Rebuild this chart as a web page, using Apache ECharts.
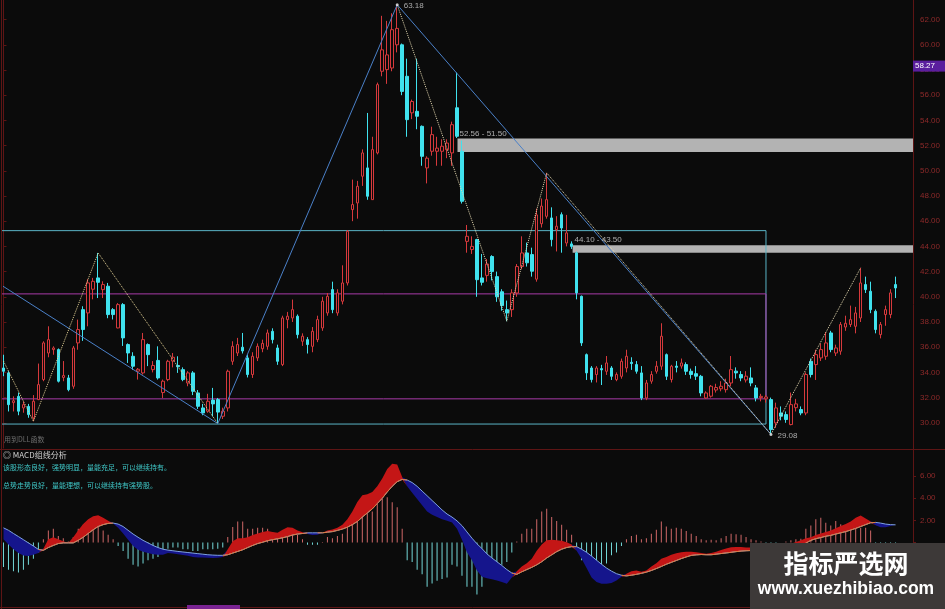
<!DOCTYPE html>
<html><head><meta charset="utf-8">
<script src="https://cdn.jsdelivr.net/npm/echarts@6.0.0/dist/echarts.min.js"></script>
<style>html,body{margin:0;padding:0;background:#0b0b0b;}#c{width:945px;height:609px;}</style>
</head><body><div id="c"></div>
<script>
// ---- candle data ----
const opens=[34.35,33.96,31.6,32.1,31.18,31.3,30.39,31.84,33.43,35.54,35.81,35.81,33.6,33.56,32.9,36.34,38.98,38.72,40.6,41.5,40.57,40.84,38.98,37.53,39.38,36.21,35.28,34.1,33.96,36.21,34.22,34.95,32.4,33.43,34.9,34.55,34.22,33.16,33.96,32.37,31.18,30.92,31.8,31.84,30.52,31.18,34.88,35.54,36.0,35.15,
33.83,35.15,35.88,36.07,37.26,35.94,34.62,38.19,38.32,38.46,36.47,36.6,36.07,36.6,37.53,38.72,40.57,38.72,39.65,41.1,46.92,47.45,49.57,50.23,47.71,51.42,57.9,58.03,58.16,60.0,60.0,57.5,54.6,54.72,53.53,50.23,51.55,51.55,51.55,51.68,51.42,55.0,51.55,44.4,43.75,44.54,41.5,41.7,43.2,41.6,
40.4,38.98,38.98,40.3,42.4,43.48,43.35,41.4,45.8,46.39,46.26,45.33,46.52,44.27,44.2,43.48,40.04,35.41,34.35,33.83,34.3,34.09,34.35,33.43,33.69,34.35,34.8,34.62,33.96,31.97,33.3,34.09,34.49,35.41,33.43,34.5,34.5,34.62,34.09,33.9,33.69,31.97,32.11,32.6,32.7,32.63,33.16,34.1,33.83,33.4,
33.56,32.77,32.0,31.9,31.84,29.99,30.78,30.65,29.86,31.2,31.05,30.78,34.88,34.62,35.15,35.28,37.13,35.54,35.68,37.6,37.8,37.66,38.32,40.97,40.44,38.85,37.0,38.59,38.59,40.97];
const closes=[34.09,31.44,31.75,30.92,31.44,30.65,31.71,33.03,36.34,36.6,35.94,33.3,33.75,32.63,35.94,37.4,37.4,41.1,41.23,41.15,40.97,38.59,38.59,39.38,36.74,35.54,34.49,34.25,36.6,35.41,34.55,33.56,33.3,34.88,35.2,34.45,33.43,33.96,32.5,31.31,30.78,31.71,31.5,30.85,30.92,34.09,36.07,36.21,35.7,33.83,
35.28,36.07,36.3,37.13,36.6,34.88,38.32,38.46,38.98,37.0,36.87,36.21,37.26,38.19,39.65,40.04,38.98,40.31,41.1,45.2,47.32,48.77,51.42,47.98,51.68,56.84,59.6,59.2,61.2,61.3,56.3,54.06,55.5,54.33,51.15,51.0,52.87,51.8,51.95,52.2,53.66,52.74,47.58,44.8,44.0,41.36,41.15,42.6,42.0,40.0,
39.3,38.72,40.31,42.4,43.48,42.7,42.03,46.5,47.2,47.71,44.54,45.6,45.46,45.07,44.0,40.31,36.34,33.96,33.43,34.35,34.2,34.75,33.69,33.83,34.88,35.28,34.7,34.09,31.97,33.16,33.83,34.49,36.87,33.69,34.49,34.4,34.75,34.09,33.83,33.7,32.37,32.37,32.9,32.8,32.9,33.16,34.22,33.96,33.56,33.7,
33.16,31.97,32.1,32.05,29.46,31.18,30.52,30.26,31.44,31.5,30.78,33.83,33.83,35.41,35.81,36.34,35.81,35.94,37.8,37.9,38.19,38.72,41.1,40.57,38.98,37.4,37.8,38.98,40.31,40.7];
const lows=[33.7,30.9,30.9,30.6,30.8,30.4,30.12,31.8,33.3,35.2,35.4,33.2,33.3,32.5,32.7,35.8,36.5,37.66,39.8,39.9,39.9,38.3,38.2,37.5,36.1,34.75,34.2,33.43,33.83,34.5,34.0,33.43,31.97,33.3,34.4,33.96,33.3,32.9,32.2,31.1,30.6,30.8,30.5,29.94,30.3,30.9,34.6,35.3,35.5,33.6,
33.56,34.9,35.6,35.8,36.3,34.6,34.5,37.5,38.0,36.7,36.1,35.5,35.6,36.4,37.3,38.5,38.7,38.5,39.4,40.9,46.0,46.2,48.8,47.7,47.7,51.3,57.5,56.9,57.9,59.4,56.0,52.7,54.1,53.3,50.4,49.0,51.2,50.4,50.4,51.0,50.4,52.6,47.4,43.5,43.4,40.0,40.9,41.2,41.3,39.6,
38.9,38.06,38.4,40.0,42.2,42.4,41.6,41.2,45.5,46.2,44.0,43.6,43.5,44.0,43.8,39.8,36.1,33.4,33.2,33.2,33.0,33.8,33.4,33.3,33.5,34.0,34.2,33.9,31.8,31.8,33.1,33.9,34.2,33.4,33.2,34.0,34.3,33.8,33.5,33.4,32.1,31.9,32.0,32.4,32.5,32.4,32.9,33.5,33.3,33.2,
32.9,31.7,31.7,31.6,29.08,29.6,30.2,30.0,29.8,30.9,30.6,30.6,33.6,33.4,34.9,35.0,35.6,35.3,35.4,37.3,37.6,37.1,38.0,40.3,38.7,37.1,36.7,37.7,38.3,39.9];
const highs=[35.4,34.1,32.1,32.4,31.7,31.5,32.2,34.7,36.47,37.66,36.07,35.9,34.9,33.8,36.1,38.19,39.25,41.4,41.5,43.48,41.23,41.1,39.1,39.5,39.5,36.3,35.6,34.35,37.13,36.3,34.9,36.07,33.43,35.0,35.54,35.28,34.4,34.1,34.1,32.6,31.5,32.3,32.77,31.97,31.2,34.22,36.47,36.74,37.13,35.4,
35.6,36.3,36.6,37.4,37.5,36.2,38.5,38.8,39.78,38.6,37.1,36.8,37.6,38.5,40.0,40.3,41.2,40.6,42.5,45.3,49.3,49.2,51.7,54.59,52.7,57.0,62.3,61.9,62.5,63.18,60.1,58.9,55.65,58.9,53.6,51.15,53.5,52.7,52.5,52.5,53.9,57.8,52.4,45.7,44.8,44.6,43.4,43.0,43.3,42.0,
40.6,39.7,40.6,42.6,44.8,44.3,43.9,47.0,47.8,49.83,47.1,46.4,46.7,46.5,44.4,43.6,40.1,35.5,34.5,34.5,34.6,35.3,34.5,34.0,35.1,35.8,35.2,34.9,34.5,33.4,34.1,34.9,37.9,35.5,34.6,34.9,35.1,34.8,34.3,34.5,33.8,32.5,33.0,33.1,33.3,33.5,35.3,34.4,34.1,34.1,
34.4,33.0,32.3,32.2,32.0,31.6,31.3,30.9,32.4,31.9,31.3,34.0,35.1,35.8,36.3,37.2,37.3,36.2,38.0,38.5,39.3,39.2,42.3,41.6,41.2,39.0,38.0,39.3,40.6,41.6];
// ---- MACD ----
const macdHist=[-2.2,-2.45,-2.6,-2.7,-2.45,-2.0,-1.45,-0.9,0.3,1.1,1.25,0.6,0.4,0.1,0.5,1.25,1.6,2.0,2.1,1.8,1.1,0.7,0.3,-0.3,-0.75,-1.45,-2.0,-2.15,-1.9,-1.6,-1.45,-1.3,-0.9,-0.55,-0.45,-0.45,-0.6,-0.6,-0.75,-0.75,-0.6,-0.6,-0.6,-0.55,-0.45,0.5,1.4,1.9,1.9,1.25,
1.25,1.35,1.35,1.25,0.95,0.7,0.8,1.1,1.1,0.7,0.3,-0.2,-0.2,-0.2,0.05,0.5,0.4,0.6,0.8,1.7,2.4,3.1,3.65,2.65,2.8,3.5,3.95,4.1,3.65,3.2,1.25,-1.6,-1.75,-2.45,-2.85,-4.0,-3.7,-3.45,-3.3,-3.15,-2.0,-2.15,-3.0,-4.0,-4.0,-4.7,-4.0,-3.0,-2.45,-2.3,
-2.0,-1.75,-0.9,0.1,0.8,1.25,1.25,2.1,2.8,3.05,2.3,1.95,1.6,1.15,0.7,-0.6,-1.6,-2.15,-2.3,-3.0,-2.3,-1.9,-1.15,-0.9,-0.3,0.3,0.6,0.7,0.3,0.4,0.8,1.15,1.9,1.45,1.25,1.35,1.25,1.05,0.8,0.6,0.3,0.2,0.25,0.2,0.4,0.6,0.8,0.75,0.7,0.5,
0.3,0.2,0.1,-0.1,-0.3,-0.2,0.0,0.1,0.2,0.3,0.35,1.25,1.55,2.1,2.25,1.8,1.55,1.95,1.65,1.55,1.55,1.75,1.35,1.35,1.1,-0.5,-0.7,-0.55,-0.2,-0.1];
const dif=[0.31,-0.17,-0.6,-0.94,-1.16,-1.22,-1.11,-0.95,-0.55,0.31,0.48,0.31,0.11,-0.03,0.48,1.11,1.67,2.1,2.38,2.47,2.24,1.96,1.73,1.33,0.82,0.26,-0.31,-0.65,-0.82,-0.94,-1.05,-1.11,-1.11,-0.94,-0.98,-1.05,-1.13,-1.18,-1.3,-1.35,-1.35,-1.38,-1.4,-1.38,-1.3,-0.6,0.11,0.4,0.4,0.48,
0.68,0.82,0.96,1.05,0.96,0.88,1.16,1.39,1.33,1.1,0.94,0.77,0.68,0.71,0.88,1.1,1.19,1.33,1.62,2.1,2.81,3.66,4.28,4.37,4.57,5.08,5.79,6.64,7.12,7.06,5.93,5.08,4.51,3.94,3.38,2.81,2.52,2.3,2.1,1.96,1.82,1.25,0.26,-0.88,-1.6,-2.52,-3.09,-3.23,-3.32,-3.43,
-3.57,-3.72,-3.15,-2.58,-2.16,-1.87,-1.45,-0.74,-0.17,0.2,0.26,0.2,0.17,0.03,-0.17,-0.74,-1.45,-2.3,-3.15,-3.57,-3.72,-3.72,-3.66,-3.43,-3.09,-2.81,-2.58,-2.52,-2.64,-2.52,-2.16,-1.87,-1.45,-1.3,-1.11,-0.96,-0.88,-0.82,-0.82,-0.88,-0.95,-1.0,-0.94,-0.82,-0.68,-0.54,-0.43,-0.4,-0.4,-0.45,
-0.45,-0.55,-0.6,-0.62,-0.7,-0.6,-0.45,-0.3,-0.1,0.05,0.2,0.4,0.48,0.68,0.82,0.96,1.1,1.3,1.5,1.67,1.9,2.24,2.44,2.18,1.9,1.56,1.39,1.39,1.5,1.55];
const dea=[1.33,1.11,0.82,0.54,0.26,-0.03,-0.31,-0.62,-0.7,-0.45,-0.26,-0.09,-0.03,-0.03,-0.03,0.2,0.48,0.82,1.16,1.45,1.62,1.73,1.76,1.67,1.45,1.11,0.77,0.48,0.2,-0.03,-0.26,-0.45,-0.6,-0.68,-0.74,-0.8,-0.85,-0.9,-0.95,-1.0,-1.05,-1.1,-1.13,-1.15,-1.15,-1.1,-0.95,-0.8,-0.65,-0.45,
-0.26,-0.09,0.03,0.17,0.26,0.34,0.43,0.54,0.68,0.77,0.82,0.88,0.88,0.88,0.88,0.94,0.99,1.1,1.22,1.39,1.62,1.9,2.3,2.67,3.04,3.52,4.0,4.57,5.08,5.5,5.7,5.65,5.42,5.08,4.65,4.23,3.8,3.38,2.95,2.58,2.3,1.96,1.53,0.96,0.4,-0.11,-0.54,-1.02,-1.39,-1.73,
-2.07,-2.44,-2.75,-2.87,-2.64,-2.44,-2.24,-2.01,-1.73,-1.39,-1.11,-0.82,-0.6,-0.45,-0.37,-0.37,-0.6,-0.88,-1.22,-1.59,-1.96,-2.3,-2.58,-2.81,-2.95,-3.01,-2.95,-2.87,-2.78,-2.67,-2.52,-2.35,-2.16,-1.96,-1.79,-1.62,-1.45,-1.3,-1.16,-1.11,-1.08,-1.1,-1.1,-1.05,-0.99,-0.94,-0.88,-0.82,-0.77,-0.74,
-0.72,-0.7,-0.68,-0.66,-0.66,-0.65,-0.62,-0.58,-0.5,-0.42,-0.3,-0.05,0.2,0.35,0.45,0.57,0.65,0.77,0.88,0.99,1.13,1.28,1.45,1.62,1.79,1.82,1.76,1.67,1.62,1.6];
// ---- annotations (data coordinates) ----
const zigzagA=[[0,34.9],[6,30.12],[19,43.48],[43,29.94]];
const zigzagB=[[79,63.18],[101,38.06],[109,49.83],[154,29.08],[172,42.3]];
const trendLine=[[-0.1,40.84],[43,29.94],[79,63.18],[154,29.08]];
const boxCyan=[[-0.5,45.25],[153,45.25],[153,29.9],[-0.5,29.9]];
const boxMagenta=[[-0.5,40.23],[153,40.23],[153,31.9],[-0.5,31.9]];
const gapBands=[[91.1,52.56,51.50,'52.56 - 51.50'],[114.2,44.10,43.50,'44.10 - 43.50']];
const extremeLabels=[[79,63.18,'63.18'],[154,29.08,'29.08']];
const priceTag=58.27;
const slotCount=183;

const cats=Array.from({length:slotCount},(_,i)=>String(i));
const candleData=opens.map((o,i)=>[o,closes[i],lows[i],highs[i]]);
const baseLine=dif.map((v,i)=>Math.min(v,dea[i]));
const redPart=dif.map((v,i)=>Math.max(v-dea[i],0));
const bluePart=dif.map((v,i)=>Math.max(dea[i]-v,0));
const isUp=k=>k>=0&&k<dif.length&&dif[k]>=dea[k];
const deaUp=dea.map((v,i)=>(isUp(i)||isUp(i-1)||isUp(i+1))?v:'-');

const axisRed='#5e1515', labelRed='#8e2a2a';
const chart=echarts.init(document.getElementById('c'));
chart.setOption({
  animation:false,
  backgroundColor:'#0b0b0b',
  textStyle:{fontFamily:'"Liberation Sans","Noto Sans CJK SC",sans-serif'},
  grid:[{left:1,right:32,top:0,height:448},{left:1,right:32,top:454,height:164.5}],
  xAxis:[
    {type:'category',gridIndex:0,data:cats,show:false,boundaryGap:true},
    {type:'value',gridIndex:0,min:-0.5,max:slotCount-0.5,show:false},
    {type:'category',gridIndex:1,data:cats,show:false,boundaryGap:true}
  ],
  yAxis:[
    {type:'value',gridIndex:0,position:'right',min:28,max:28+448/12.6,interval:2,
     axisLine:{show:true,lineStyle:{color:axisRed}},axisTick:{show:true,length:3,lineStyle:{color:axisRed}},
     splitLine:{show:false},
     axisLabel:{color:labelRed,fontSize:8,margin:7,showMinLabel:false,showMaxLabel:false,formatter:v=>v.toFixed(2)}},
    {type:'value',gridIndex:1,position:'right',min:-6,max:8,interval:2,
     axisLine:{show:true,lineStyle:{color:axisRed}},axisTick:{show:true,length:3,lineStyle:{color:axisRed}},
     splitLine:{show:false},
     axisLabel:{color:labelRed,fontSize:8,margin:7,showMaxLabel:false,formatter:v=>v>0?v.toFixed(2):''}}
  ],
  series:[
    {type:'line',xAxisIndex:1,yAxisIndex:0,data:boxCyan,symbol:'none',z:3,
     lineStyle:{color:'#5ab4c6',width:1},
     markArea:{silent:true,label:{show:false},itemStyle:{color:'#b3b3b3'},
       data:gapBands.map(b=>[{coord:[b[0],b[1]]},{coord:[slotCount-0.5,b[2]]}])}},
    {type:'line',xAxisIndex:1,yAxisIndex:0,data:boxMagenta,symbol:'none',z:3,
     lineStyle:{color:'#a83aa8',width:1}},
    {type:'candlestick',xAxisIndex:0,yAxisIndex:0,data:candleData,barWidth:3,z:5,
     itemStyle:{color:'#0b0b0b',color0:'#40e2ee',borderColor:'#d6393c',borderColor0:'#40e2ee',borderWidth:1}},
    {type:'line',xAxisIndex:1,yAxisIndex:0,data:trendLine,symbol:'none',z:6,
     lineStyle:{color:'#4a80c8',width:1}},
    {type:'line',xAxisIndex:1,yAxisIndex:0,data:zigzagA,symbol:'none',z:7,
     lineStyle:{color:'#e4d296',width:1,type:'dotted'}},
    {type:'line',xAxisIndex:1,yAxisIndex:0,data:zigzagB,symbol:'none',z:7,
     lineStyle:{color:'#e4d8b0',width:1,type:'dotted'}},
    {type:'scatter',xAxisIndex:1,yAxisIndex:0,data:extremeLabels,symbolSize:3,z:8,
     itemStyle:{color:'#e8e8e8'},
     label:{show:true,position:'right',distance:5,offset:[0,1],color:'#cfcfcf',fontSize:8,formatter:p=>p.data[2]}},
    {type:'scatter',xAxisIndex:1,yAxisIndex:0,data:gapBands.map(b=>[b[0],b[1],b[3]]),symbolSize:0,z:8,
     label:{show:true,position:'right',distance:2,offset:[0,-5],color:'#d4d4d4',fontSize:8,formatter:p=>p.data[2]}},
    // MACD
    {type:'bar',xAxisIndex:2,yAxisIndex:1,data:macdHist,barWidth:1,z:2,
     itemStyle:{color:p=>p.value>=0?'#d06868':'#74d8d8'}},
    {type:'line',xAxisIndex:2,yAxisIndex:1,data:baseLine,stack:'fill',stackStrategy:'all',symbol:'none',z:3,
     lineStyle:{opacity:0}},
    {type:'line',xAxisIndex:2,yAxisIndex:1,data:redPart,stack:'fill',stackStrategy:'all',symbol:'none',z:3,
     lineStyle:{opacity:0},areaStyle:{color:'#c41616',opacity:1}},
    {type:'line',xAxisIndex:2,yAxisIndex:1,data:bluePart,stack:'fill',stackStrategy:'all',symbol:'none',z:3,
     lineStyle:{opacity:0},areaStyle:{color:'#15158c',opacity:1}},
    {type:'line',xAxisIndex:2,yAxisIndex:1,data:dea,symbol:'none',z:4,
     lineStyle:{color:'#7ea2e0',width:1}},
    {type:'line',xAxisIndex:2,yAxisIndex:1,data:deaUp,symbol:'none',z:4,
     lineStyle:{color:'#e07a3c',width:1}}
  ],
  graphic:{elements:[
    {id:'lb',type:'line',shape:{x1:1.5,y1:0,x2:1.5,y2:609},style:{stroke:axisRed,lineWidth:1},z:50},
    {id:'sep',type:'line',shape:{x1:0,y1:449.5,x2:945,y2:449.5},style:{stroke:axisRed,lineWidth:1},z:50},
    {id:'rb',type:'line',shape:{x1:913.5,y1:0,x2:913.5,y2:609},style:{stroke:axisRed,lineWidth:1},z:50},
    {id:'bot',type:'line',shape:{x1:0,y1:607.5,x2:945,y2:607.5},style:{stroke:axisRed,lineWidth:1},z:50},
    {id:'pb',type:'rect',shape:{x:187,y:605,width:53,height:4},style:{fill:'#7a2392'},z:51},
    {id:'dll',type:'text',x:4,y:439,style:{text:'用到DLL函数',fill:'#6c6c6c',font:'7px "Noto Sans CJK SC"',verticalAlign:'middle'},z:50},
    {id:'mt',type:'text',x:3,y:455,style:{text:'◎ MACD组线分析',fill:'#d0d0d0',font:'8px "Noto Sans CJK SC"',verticalAlign:'middle'},z:50},
    {id:'t1',type:'text',x:3,y:467,style:{text:'该股形态良好，强势明显，量能充足，可以继续持有。',fill:'#3fc6c6',font:'7px "Noto Sans CJK SC"',verticalAlign:'middle'},z:50},
    {id:'t2',type:'text',x:3,y:485,style:{text:'总势走势良好，量能理想，可以继续持有强势股。',fill:'#3fc6c6',font:'7px "Noto Sans CJK SC"',verticalAlign:'middle'},z:50},
    {id:'wm',type:'rect',shape:{x:750,y:543,width:195,height:66},style:{fill:'#3d3938'},z:100},
    {id:'wm1',type:'text',x:846,y:563,style:{text:'指标严选网',fill:'#ffffff',font:'bold 25px "Noto Sans CJK SC"',align:'center',verticalAlign:'middle'},z:101},
    {id:'wm2',type:'text',x:846,y:589,style:{text:'www.xuezhibiao.com',fill:'#ffffff',font:'bold 17.5px "Liberation Sans"',align:'center',verticalAlign:'middle'},z:101}
  ]}
});
const ty=chart.convertToPixel({yAxisIndex:0},priceTag);
chart.setOption({graphic:{elements:[
  {id:'tagr',type:'rect',shape:{x:913,y:ty-6,width:32,height:11},style:{fill:'#5a1e9e'},z:60},
  {id:'tagt',type:'text',x:915,y:ty-0.5,style:{text:priceTag.toFixed(2),fill:'#ffffff',font:'8px "Liberation Sans"',verticalAlign:'middle'},z:61}
]}});
</script></body></html>
